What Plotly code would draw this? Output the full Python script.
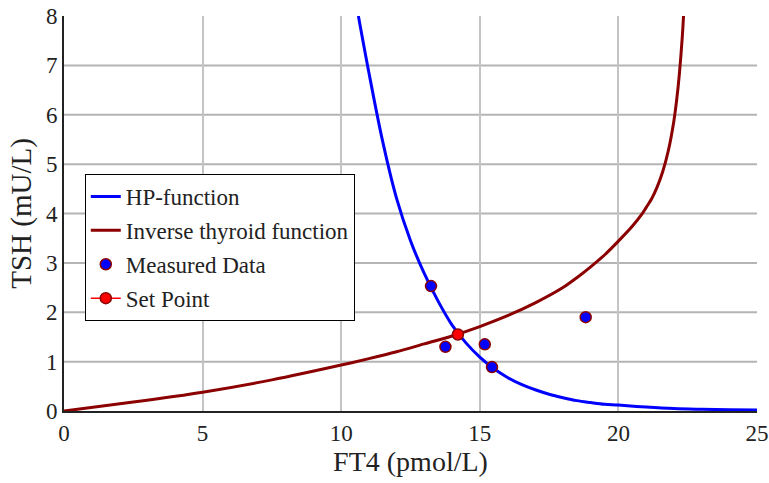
import plotly.graph_objects as go

# HP-function (pituitary response): TSH vs FT4
hp_ft4 = [10.62, 11.0, 11.5, 12.0, 12.5, 13.0, 13.5, 14.0, 14.5, 15.0, 15.5, 16.0,
          16.5, 17.0, 17.5, 18.0, 18.5, 19.0, 19.5, 20.0, 21.0, 22.0, 23.0, 24.0, 25.0]
hp_tsh = [8.0, 6.85, 5.45, 4.3, 3.45, 2.78, 2.22, 1.74, 1.38, 1.09, 0.86, 0.68,
          0.54, 0.43, 0.34, 0.27, 0.21, 0.17, 0.135, 0.12, 0.08, 0.05, 0.035, 0.025, 0.02]

# Inverse thyroid function
inv_ft4 = [0.0, 2.5, 5.0, 7.5, 10.0, 11.0, 12.0, 13.0, 14.0, 15.0, 16.0, 17.0, 18.0,
           18.5, 19.0, 19.5, 20.0, 20.5, 20.84, 21.0, 21.2, 21.4, 21.6, 21.8, 22.0,
           22.1, 22.2, 22.3, 22.35]
inv_tsh = [0.0, 0.18, 0.38, 0.63, 0.93, 1.06, 1.2, 1.36, 1.52, 1.71, 1.93, 2.19, 2.5,
           2.7, 2.92, 3.16, 3.44, 3.74, 3.98, 4.12, 4.30, 4.54, 4.85, 5.27, 5.87,
           6.29, 6.83, 7.54, 8.0]

# Measured data points
meas_ft4 = [13.24, 13.76, 15.18, 15.44, 18.82]
meas_tsh = [2.53, 1.30, 1.35, 0.89, 1.90]

# Equilibrium set point
set_ft4 = [14.21]
set_tsh = [1.55]

x_ticks = [0, 5, 10, 15, 20, 25]
y_ticks = [0, 1, 2, 3, 4, 5, 6, 7, 8]

SERIF = "Liberation Serif"
DARKRED = "#8b0000"
INK = "#222222"

fig = go.Figure()
fig.add_trace(go.Scatter(x=hp_ft4, y=hp_tsh, mode="lines", name="HP-function",
                         line=dict(color="#0000ff", width=3, shape="spline"),
                         legendgroup="a"))
fig.add_trace(go.Scatter(x=inv_ft4, y=inv_tsh, mode="lines", name="Inverse thyroid function",
                         line=dict(color=DARKRED, width=3, shape="spline", smoothing=0.8),
                         legendgroup="b"))
fig.add_trace(go.Scatter(x=meas_ft4, y=meas_tsh, mode="markers", name="Measured Data",
                         marker=dict(color="#0000ff", size=11,
                                     line=dict(color=DARKRED, width=1.5)),
                         legendgroup="c"))
fig.add_trace(go.Scatter(x=set_ft4, y=set_tsh, mode="lines+markers", name="Set Point",
                         line=dict(color="#ff0000", width=1.5),
                         marker=dict(color="#ff0000", size=11,
                                     line=dict(color=DARKRED, width=1.5)),
                         legendgroup="d"))

# horizontal grid lines (none on the top edge)
for v in y_ticks[1:-1]:
    fig.add_shape(type="line", xref="paper", x0=0, x1=1, yref="y", y0=v, y1=v,
                  line=dict(color="#b4b4b4", width=2), layer="below")

fig.update_layout(
    width=769, height=483,
    margin=dict(l=64, r=12, t=16, b=72),
    paper_bgcolor="white", plot_bgcolor="white",
    font=dict(family=SERIF, color=INK),
    legend=dict(x=0.03, y=0.6, xanchor="left", yanchor="top",
                bgcolor="white", bordercolor="black", borderwidth=1,
                font=dict(family=SERIF, size=23, color=INK),
                tracegroupgap=1, itemwidth=30),
    xaxis=dict(range=[0, 25], tickvals=x_ticks, showgrid=True, gridcolor="#c4c4c4",
               gridwidth=1.5, zeroline=False, showline=True, linecolor=INK,
               linewidth=2, ticks="", automargin=False,
               tickfont=dict(family=SERIF, size=23, color=INK),
               title=dict(text="FT4 (pmol/L)", font=dict(family=SERIF, size=28, color=INK),
                          standoff=6)),
    yaxis=dict(range=[0, 8], tickvals=y_ticks, showgrid=False, zeroline=False,
               showline=True, linecolor=INK, linewidth=2, ticks="", automargin=False,
               tickfont=dict(family=SERIF, size=23, color=INK),
               title=dict(text="TSH (mU/L)", font=dict(family=SERIF, size=29, color=INK),
                          standoff=6)),
)

fig.write_html("out.html")
